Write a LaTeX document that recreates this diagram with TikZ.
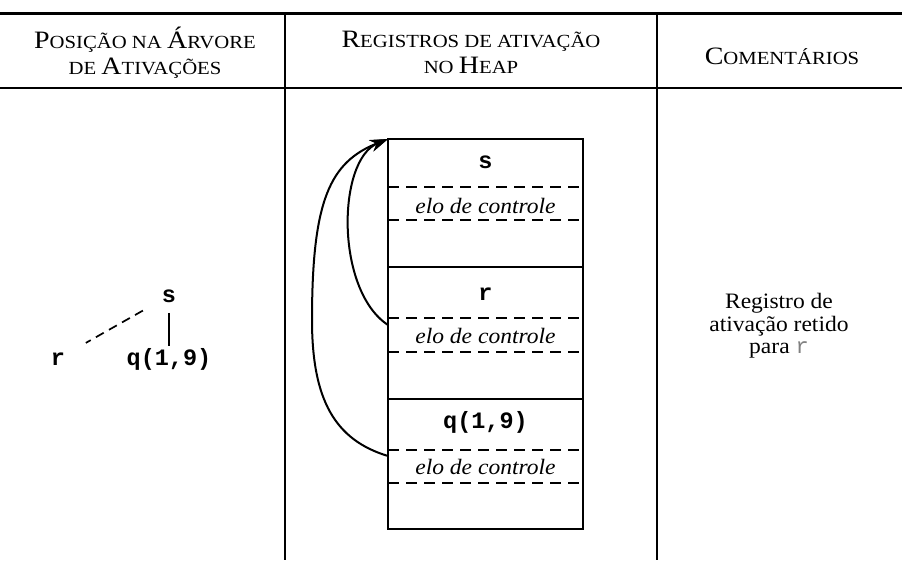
\documentclass[tikz,border=0pt]{standalone}
\usepackage{fontspec}
\setmainfont{Liberation Serif}[FakeStretch=1.07]
\setmonofont{Liberation Mono}
\newfontfamily\hdrfont{Liberation Serif}[FakeStretch=1.12]
\usetikzlibrary{arrows.meta}
\newcommand{\capA}[1]{{\fontsize{25}{27}\selectfont #1}}
\begin{document}
\begin{tikzpicture}[x=1pt,y=-1pt,
  hdr/.style={font=\hdrfont\fontsize{18.5}{27}\selectfont, inner sep=0pt, anchor=base},
  body/.style={font=\fontsize{22}{22.5}\selectfont, inner sep=0pt},
  link/.style={font=\fontsize{22}{23}\selectfont\itshape, inner sep=0pt, anchor=base},
  code/.style={font=\fontsize{23.5}{24}\selectfont\ttfamily\bfseries, inner sep=0pt, anchor=base},
  toprule/.style={line width=3pt},
  midrule/.style={line width=2.4pt},
  colrule/.style={line width=1.9pt},
  frame/.style={line width=2pt},
  slot/.style={line width=1.7pt, dash pattern=on 11pt off 7pt},
  treeline/.style={line width=1.7pt},
  ptr/.style={line width=2pt, -{Stealth[length=18pt,width=12pt]}},
]
\useasboundingbox (0,0) rectangle (902,560);
% table
\draw[toprule] (0,13) -- (902,13);
\draw[midrule] (0,88) -- (902,88);
\draw[colrule] (285,13) -- (285,560);
\draw[colrule] (657,13) -- (657,560);
% headers
\node[hdr] (h1a) at (145,48) {\capA{P}OSIÇÃO NA \capA{Á}RVORE};
\node[hdr] (h1b) at (145,74) {DE \capA{A}TIVAÇÕES};
\node[hdr] (h2a) at (471,47) {\capA{R}EGISTROS DE ATIVAÇÃO};
\node[hdr] (h2b) at (471,73) {NO \capA{H}EAP};
\node[hdr] (h3) at (782,64) {\capA{C}OMENTÁRIOS};
% tree
\node[code] (ts) at (169,302) {s};
\node[code] (tr) at (58,365) {r};
\node[code] (tq) at (169,365) {q(1,9)};
\draw[treeline, shorten <=17pt, shorten >=13pt] (ts.center) -- (tq.center);
\draw[treeline, dash pattern=on 9pt off 6pt, shorten <=30pt, shorten >=32pt] (ts.center) -- (tr.center);
% heap
\draw[frame] (388,139) rectangle (583,529);
\draw[frame] (388,267) -- (583,267);
\draw[frame] (388,399) -- (583,399);
\foreach \y in {187,220,318,352,450,483}{
  \draw[slot] (388,\y) -- (583,\y);
}
\node[code] (hs) at (485.5,168) {s};
\node[link] (ls) at (485.5,213) {elo de controle};
\node[code] (hr) at (485.5,300) {r};
\node[link] (lr) at (485.5,343) {elo de controle};
\node[code] (hq) at (485.5,428) {q(1,9)};
\node[link] (lq) at (485.5,474) {elo de controle};
\coordinate (top) at (388,139);
\coordinate (rlink) at (388,325);
\coordinate (qlink) at (388,456);
\draw[ptr] (rlink) .. controls (335,290) and (337,160) .. (top);
\draw[ptr] (qlink) .. controls (335,440) and (312,400) .. (312,320) .. controls (312,200) and (330,162) .. (top);
% comment
\node[body, align=center] (cm) at (779,326) {Registro de\\ativação retido\\para {\mdseries\ttfamily\color{gray}r}};
\end{tikzpicture}
\end{document}
